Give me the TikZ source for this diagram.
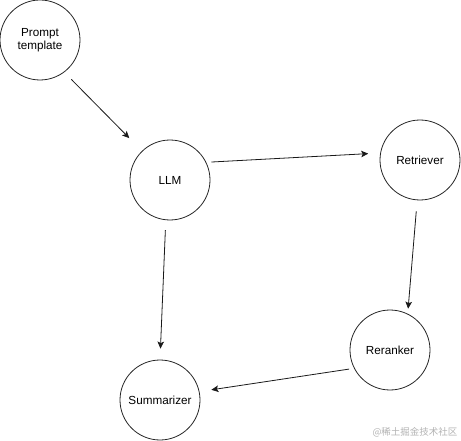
\documentclass[tikz,border=0pt]{standalone}
\usepackage{fontspec}
\setmainfont{Liberation Sans}
\newfontfamily\cjk{Noto Sans CJK SC}
\usetikzlibrary{arrows.meta}
\tikzset{
  stage/.style={circle, minimum size=80pt, inner sep=0pt, draw=black!85,
                line width=0.8pt, align=center, font=\fontsize{11.7}{13.5}\selectfont},
  arrow/.style={-{Stealth[length=7pt, width=6.5pt, inset=1.5pt]}, line width=0.8pt, black!90},
  watermark/.style={font=\cjk\fontsize{9.5}{11}\selectfont, text=black!30}
}
\begin{document}
\begin{tikzpicture}[x=1pt, y=-1pt]
\useasboundingbox (0,0) rectangle (461,441);
\node (prompt) [stage] at (40,40) {Prompt\\template};
\node (llm) [stage] at (170,180) {LLM};
\node (retriever) [stage] at (420,160) {Retriever};
\node (reranker) [stage] at (390,350) {Reranker};
\node (summarizer) [stage] at (160,400) {Summarizer};

% Arrows
\draw [arrow, shorten <=10pt, shorten >=18pt] (prompt.-53) -- (llm.134);
\draw [arrow, shorten <=5pt, shorten >=12pt] (llm.26) -- (retriever.170);
\draw [arrow, shorten <=11pt, shorten >=5pt] (retriever.-94.5) -- (reranker.64);
\draw [arrow, shorten <=10pt, shorten >=11pt] (llm.-96.8) -- (summarizer.90);
\draw [arrow, shorten <=5pt, shorten >=12pt] (reranker.207.7) -- (summarizer.12.2);

\node (wm) [watermark] at (415,432) {@稀土掘金技术社区};
\end{tikzpicture}
\end{document}
